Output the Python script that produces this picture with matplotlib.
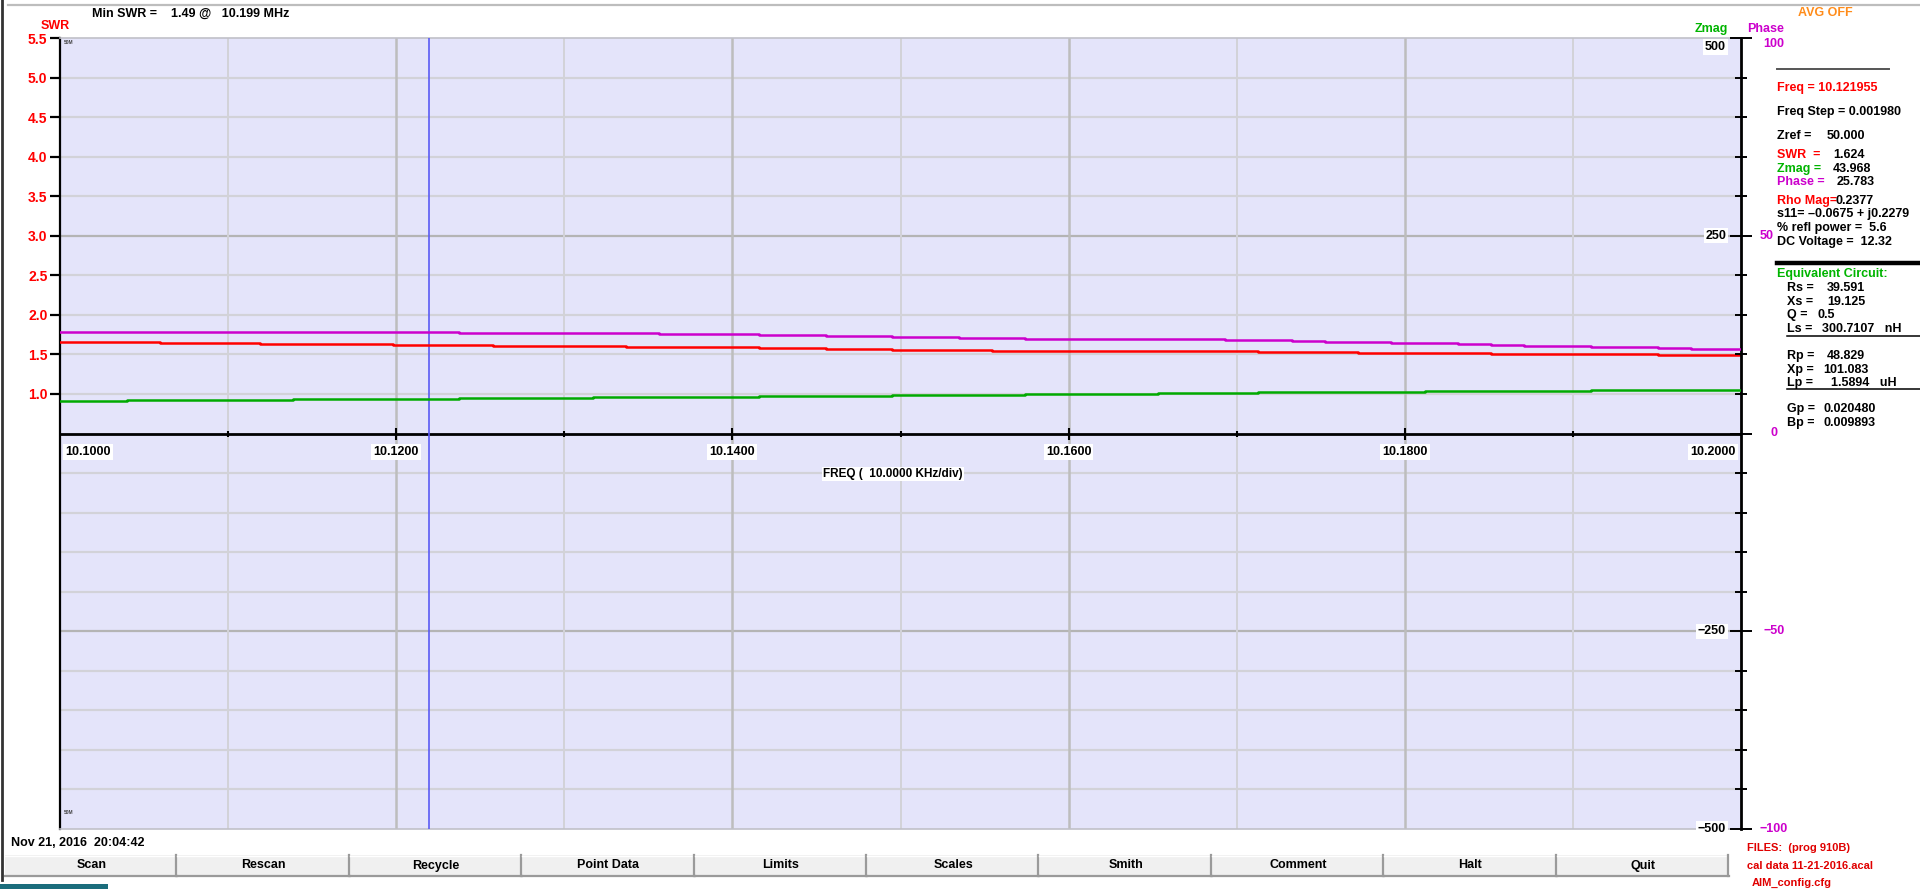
import matplotlib
matplotlib.use("Agg")
import matplotlib.pyplot as plt
import numpy as np
from matplotlib import transforms
from matplotlib.lines import Line2D
from matplotlib.patches import Rectangle

plt.rcParams["font.family"] = ["Liberation Sans", "DejaVu Sans"]
plt.rcParams["font.weight"] = "bold"

W, H = 1920, 889

# sweep definition
FREQ_START = 10.1
FREQ_STOP = 10.2
FREQ_STEP = 0.00198
CURSOR_FREQ = 10.121955

# one reading per sweep point (51 points)
swr = [1.662, 1.662, 1.662, 1.649, 1.649, 1.649, 1.637, 1.637, 1.637, 1.637,
       1.624, 1.624, 1.624, 1.611, 1.611, 1.611, 1.611, 1.599, 1.599, 1.599,
       1.599, 1.586, 1.586, 1.573, 1.573, 1.561, 1.561, 1.561, 1.548, 1.548,
       1.548, 1.548, 1.548, 1.548, 1.548, 1.548, 1.535, 1.535, 1.535, 1.523,
       1.523, 1.523, 1.523, 1.510, 1.510, 1.510, 1.510, 1.510, 1.490, 1.490,
       1.490]
zmag = [41.44, 41.44, 42.71, 42.71, 42.71, 42.71, 42.71, 43.97, 43.97, 43.97,
        43.97, 43.97, 45.23, 45.23, 45.23, 45.23, 46.50, 46.50, 46.50, 46.50,
        46.50, 47.76, 47.76, 47.76, 47.76, 49.03, 49.03, 49.03, 49.03, 50.29,
        50.29, 50.29, 50.29, 51.56, 51.56, 51.56, 52.82, 52.82, 52.82, 52.82,
        52.82, 54.08, 54.08, 54.08, 54.08, 54.08, 55.35, 55.35, 55.35, 55.35,
        55.35]
phase = [25.78, 25.78, 25.78, 25.78, 25.78, 25.78, 25.78, 25.78, 25.78, 25.78,
         25.78, 25.78, 25.53, 25.53, 25.53, 25.53, 25.53, 25.53, 25.27, 25.27,
         25.27, 25.02, 25.02, 24.77, 24.77, 24.52, 24.52, 24.26, 24.26, 24.01,
         24.01, 24.01, 24.01, 24.01, 24.01, 23.76, 23.76, 23.50, 23.25, 23.25,
         23.00, 23.00, 22.75, 22.49, 22.24, 22.24, 21.99, 21.99, 21.74, 21.48,
         21.48]

swr_ticks = [1.0, 1.5, 2.0, 2.5, 3.0, 3.5, 4.0, 4.5, 5.0, 5.5]
zmag_labels = [500, 250, -250, -500]
phase_labels = [100, 50, 0, -50, -100]
freq_labels = [10.10, 10.12, 10.14, 10.16, 10.18, 10.20]
buttons = ["Scan", "Rescan", "Recycle", "Point Data", "Limits", "Scales",
           "Smith", "Comment", "Halt", "Quit"]

RED = "#FF0000"
GREEN = "#00AA00"
MAGENTA = "#CC00CC"


def fx(x):
    return x / W


def fy(y):
    return 1 - y / H


def hline(fig, x0, x1, y, color, lw):
    fig.add_artist(Line2D([fx(x0), fx(x1)], [fy(y), fy(y)], color=color,
                          lw=lw, transform=fig.transFigure))


fig = plt.figure(figsize=(W / 100, H / 100), dpi=100)
fig.patch.set_facecolor("white")

# ── plot area ──
ax = fig.add_axes([fx(60), fy(829), (1741 - 60) / W, (829 - 38) / H])
ax.set_facecolor("#E4E4FA")
ax.set_xlim(FREQ_START, FREQ_STOP)
ax.set_ylim(-4.5, 5.5)

for v in np.arange(-4.0, 5.5, 0.5):
    if abs(v - 0.5) < 1e-9:
        continue
    major = abs(v - 3.0) < 1e-9 or abs(v + 2.0) < 1e-9
    ax.axhline(v, color="#B4B4B4" if major else "#D2D2D8",
               lw=1.6, zorder=0)
for i in range(1, 10):
    f = FREQ_START + i * 0.01
    ax.axvline(f, color="#BDBDBD" if i % 2 == 0 else "#D2D2D8",
               lw=1.8 if i % 2 == 0 else 1.4, zorder=0)

# frequency axis through the middle
ax.axhline(0.5, color="black", lw=2.0, zorder=1)
for i in range(1, 10):
    f = FREQ_START + i * 0.01
    ax.plot([f], [0.5], marker="|", ms=9 if i % 2 == 0 else 5,
            mew=1.5, color="black", zorder=2)

for side in ("top", "bottom"):
    ax.spines[side].set_color("#C0C0C8")
    ax.spines[side].set_linewidth(1.2)
ax.spines["left"].set_color("black")
ax.spines["left"].set_linewidth(1.6)
ax.spines["right"].set_visible(False)

ax.set_xticks([])
ax.set_yticks(swr_ticks)
ax.set_yticklabels([f"{t:.1f}" for t in swr_ticks])
ax.tick_params(axis="y", direction="out", length=7, width=1.6,
               color="black", labelcolor=RED, labelsize=10, pad=2)

# frequency labels with white boxes
tx = transforms.blended_transform_factory(ax.transData, fig.transFigure)
for i, f in enumerate(freq_labels):
    ha = "left" if i == 0 else ("right" if i == len(freq_labels) - 1 else "center")
    xo = f + (0.0003 if i == 0 else (-0.0003 if i == len(freq_labels) - 1 else 0))
    ax.text(xo, fy(452), f"{f:.4f}", transform=tx, ha=ha, va="center",
            fontsize=9, bbox=dict(facecolor="white", edgecolor="none", pad=1.5))
fig.text(fx(893), fy(474), "FREQ (  10.0000 KHz/div)", ha="center",
         va="center", fontsize=8.5,
         bbox=dict(facecolor="white", edgecolor="none", pad=1.0))

ax.text(0.002, 0.997, "50M", transform=ax.transAxes, fontsize=3.5,
        color="#444444", va="top", ha="left")
ax.text(0.002, 0.018, "50M", transform=ax.transAxes, fontsize=3.5,
        color="#444444", va="bottom", ha="left")

# cursor
ax.axvline(CURSOR_FREQ, color="#5A5AF5", lw=1.2, zorder=3)

# sweep frequencies and traces
freq = FREQ_START + FREQ_STEP * np.arange(len(swr))
f_ext = np.append(freq, FREQ_STOP)

ax.plot(f_ext, np.append(swr, swr[-1]), drawstyle="steps-post",
        color=RED, lw=1.8, zorder=4)

ax_z = ax.twinx()
ax_z.set_ylim(-500, 500)
ax_z.plot(f_ext, np.append(zmag, zmag[-1]), drawstyle="steps-post",
          color=GREEN, lw=1.8, zorder=4)
for side in ("top", "bottom", "left"):
    ax_z.spines[side].set_visible(False)
ax_z.spines["right"].set_color("black")
ax_z.spines["right"].set_linewidth(2.0)
ax_z.set_yticks([-500, -250, 0, 250, 500])
ax_z.set_yticks(np.arange(-450, 500, 50), minor=True)
ax_z.tick_params(axis="y", which="major", direction="inout", length=16,
                 width=1.4, labelright=False)
ax_z.tick_params(axis="y", which="minor", direction="inout", length=8,
                 width=1.4)

tz = transforms.blended_transform_factory(ax_z.transAxes, ax_z.transData)
tz_top = transforms.offset_copy(tz, fig=fig, y=-3, units="dots")
for v in zmag_labels:
    top = v == max(zmag_labels)
    ax_z.text((1726 - 60) / 1681, v, f"{v}".replace("-", "\u2212"),
              transform=tz_top if top else tz, ha="right",
              va="top" if top else "center", fontsize=9,
              bbox=dict(facecolor="white", edgecolor="none", pad=1.2))

ax_p = ax.twinx()
ax_p.set_ylim(-100, 100)
ax_p.axis("off")
ax_p.plot(f_ext, np.append(phase, phase[-1]), drawstyle="steps-post",
          color=MAGENTA, lw=1.8, zorder=4)
tp = transforms.blended_transform_factory(ax_p.transAxes, ax_p.transData)
for v in phase_labels:
    px = 1774 if v != 50 else 1767
    ax_p.text((px - 60) / 1681, v, f"{v}".replace("-", "\u2212"),
              transform=tp, ha="center",
              va="top" if v == max(phase_labels) else "center", fontsize=9,
              color=MAGENTA, clip_on=False)

# ── header ──
fig.text(fx(92), fy(14), "Min SWR =    1.49 @   10.199 MHz", fontsize=9,
         va="center")
fig.text(fx(41), fy(26), "SWR", fontsize=9, color=RED, va="center")
fig.text(fx(1798), fy(13), "AVG OFF", fontsize=9, color="#FF8C1A", va="center")
fig.text(fx(1695), fy(29), "Zmag", fontsize=9, color="#00B400", va="center")
fig.text(fx(1747), fy(29), "Phase", fontsize=9, color=MAGENTA, va="center")

# ── readout panel ──
PX = 1777
hline(fig, PX, 1889, 69, "#555555", 1.4)
fig.text(fx(PX), fy(88), "Freq = 10.121955", fontsize=9, color=RED, va="center")
fig.text(fx(PX), fy(112), "Freq Step = 0.001980", fontsize=9, va="center")

readout = [
    ("Zref =", "black", "50.000", 1827, 136),
    ("SWR  =", RED, "1.624", 1833, 155),
    ("Zmag =", "#00B400", "43.968", 1833, 169),
    ("Phase =", MAGENTA, "25.783", 1837, 182),
    ("Rho Mag=", RED, "0.2377", 1835, 201),
]
for label, color, value, vx, y in readout:
    fig.text(fx(PX), fy(y), label, fontsize=9, color=color, va="center")
    fig.text(fx(vx), fy(y), value, fontsize=9, va="center")
fig.text(fx(PX), fy(214), "s11= \u20130.0675 + j0.2279", fontsize=9, va="center")
fig.text(fx(PX), fy(228), "% refl power =  5.6", fontsize=9, va="center")
fig.text(fx(PX), fy(242), "DC Voltage =  12.32", fontsize=9, va="center")

hline(fig, PX, W, 263, "black", 3.2)
fig.text(fx(PX), fy(274), "Equivalent Circuit:", fontsize=9, color="#00B400",
         va="center")

EX = 1787
circuit = [
    ("Rs =", "39.591", 1827, 288),
    ("Xs =", "19.125", 1827, 302),
    ("Q =", "0.5", 1817, 315),
    ("Ls =", "300.7107   nH", 1822, 329),
    ("Rp =", "48.829", 1827, 356),
    ("Xp =", "101.083", 1823, 370),
    ("Lp =", "1.5894   uH", 1831, 383),
    ("Gp =", "0.020480", 1824, 409),
    ("Bp =", "0.009893", 1824, 423),
]
for label, value, vx, y in circuit:
    fig.text(fx(EX), fy(y), label, fontsize=9, va="center")
    fig.text(fx(vx), fy(y), value, fontsize=9, va="center")
hline(fig, EX, W, 336, "black", 1.1)
hline(fig, EX, W, 389, "black", 1.1)

# ── footer ──
fig.text(fx(11), fy(843), "Nov 21, 2016  20:04:42", fontsize=9, va="center")

bx0, bx1, by0, by1 = 5, 1729, 855, 876
bw = (bx1 - bx0) / len(buttons)
for i, name in enumerate(buttons):
    x0 = bx0 + i * bw
    fig.add_artist(Rectangle((fx(x0), fy(by1)), bw / W, (by1 - by0) / H,
                             facecolor="#F0F0F0", edgecolor="none",
                             transform=fig.transFigure))
    hline(fig, x0, x0 + bw, by0 + 0.5, "#FFFFFF", 1.0)
    hline(fig, x0, x0 + bw, by1 - 0.5, "#9A9A9A", 1.6)
    fig.add_artist(Line2D([fx(x0 + bw - 1), fx(x0 + bw - 1)], [fy(by0), fy(by1)],
                          color="#9A9A9A", lw=1.6, transform=fig.transFigure))
    fig.text(fx(x0 + bw / 2), fy(865.5), name, fontsize=9, ha="center",
             va="center")

fig.text(fx(1747), fy(848), "FILES:  (prog 910B)", fontsize=8, color="#E00000",
         va="center")
fig.text(fx(1747), fy(866), "cal data 11-21-2016.acal", fontsize=8,
         color="#E00000", va="center")
fig.text(fx(1752), fy(883), "AIM_config.cfg", fontsize=8, color="#E00000",
         va="center")

# window frame bits
hline(fig, 8, W, 5, "#BDBDBD", 1.6)
fig.add_artist(Line2D([fx(2), fx(2)], [fy(0), fy(880)], color="#333333",
                      lw=2.0, transform=fig.transFigure))
fig.add_artist(Rectangle((0, 0), 108 / W, 5 / H, facecolor="#1B6D7C",
                         edgecolor="none", transform=fig.transFigure))

fig.savefig("out.png", dpi=100)
